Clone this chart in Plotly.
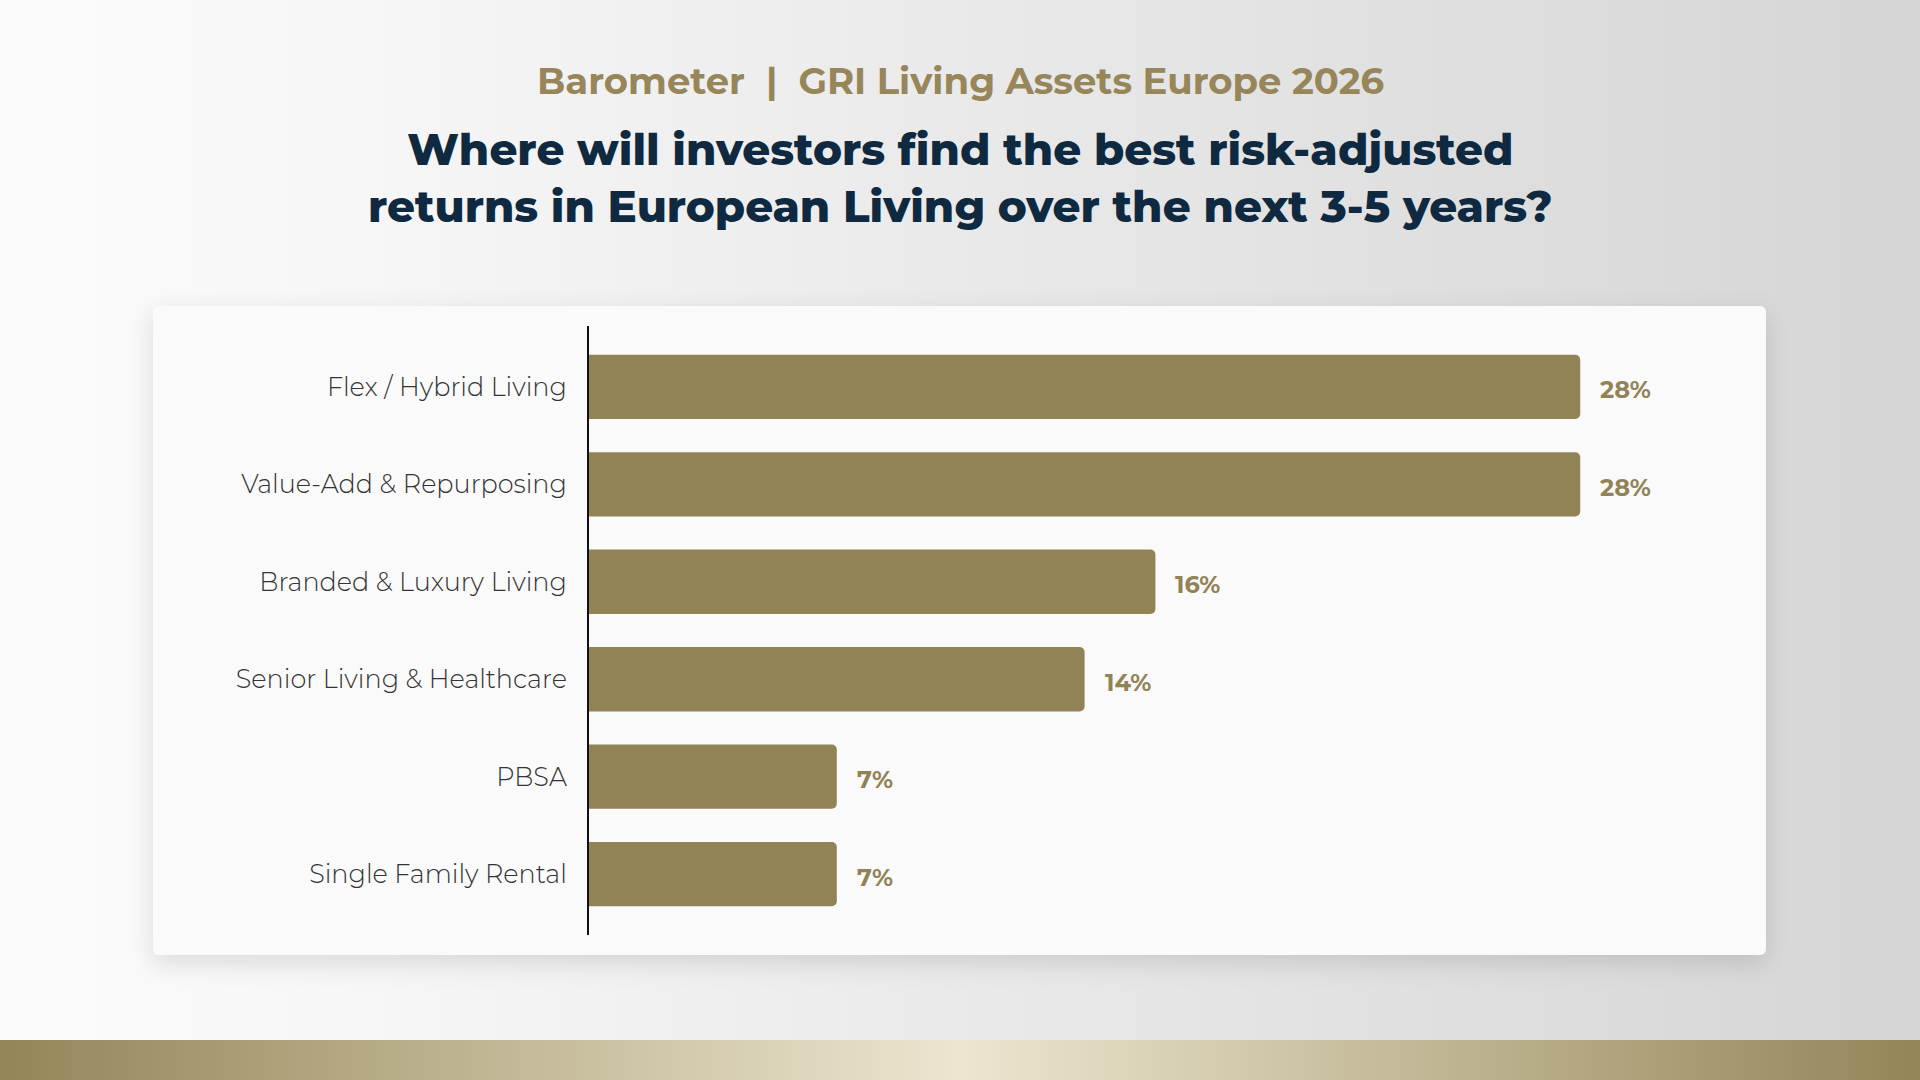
import base64
import plotly.graph_objects as go

categories = ["Flex / Hybrid Living", "Value-Add & Repurposing", "Branded & Luxury Living",
              "Senior Living & Healthcare", "PBSA", "Single Family Rental"]
shares = [28, 28, 16, 14, 7, 7]

GOLD = "#928357"
NAVY = "#0f2a40"

# slide background: grey gradient, white card with shadow, gold band at the bottom
bg_svg = """<svg xmlns="http://www.w3.org/2000/svg" width="1920" height="1080" viewBox="0 0 1920 1080">
<defs>
<linearGradient id="bg" x1="0" y1="0" x2="1" y2="0">
<stop offset="0" stop-color="#fbfbfb"/><stop offset="0.2" stop-color="#f6f6f6"/><stop offset="1" stop-color="#d5d5d5"/>
</linearGradient>
<linearGradient id="band" x1="0" y1="0" x2="1" y2="0">
<stop offset="0" stop-color="#948558"/><stop offset="0.5" stop-color="#ece6cf"/><stop offset="1" stop-color="#948558"/>
</linearGradient>
<filter id="sh" x="-10%" y="-10%" width="120%" height="130%">
<feDropShadow dx="0" dy="8" stdDeviation="12" flood-color="#000" flood-opacity="0.12"/>
</filter>
</defs>
<rect width="1920" height="1080" fill="url(#bg)"/>
<rect x="153" y="306" width="1613" height="649" rx="6" fill="#fafafa" filter="url(#sh)"/>
<rect x="0" y="1040" width="1920" height="40" fill="url(#band)"/>
</svg>"""
bg_uri = "data:image/svg+xml;base64," + base64.b64encode(bg_svg.encode()).decode()

fig = go.Figure(go.Bar(
    x=shares, y=categories, orientation="h",
    marker=dict(color=GOLD, line=dict(width=0)),
    width=0.66, hoverinfo="skip",
))

for c, v in zip(categories, shares):
    fig.add_annotation(x=v, y=c, xref="x", yref="y", text=f"{v}%", showarrow=False,
                       xanchor="left", yanchor="middle", xshift=18, yshift=-3,
                       font=dict(family="Montserrat, Lato, sans-serif", size=24, color=GOLD, weight=700))

fig.add_annotation(x=0.5, y=1 - 81 / 1080, xref="paper", yref="paper", showarrow=False,
                   xanchor="center", yanchor="middle",
                   text="Barometer  |  GRI Living Assets Europe 2026",
                   font=dict(family="Montserrat, Lato, sans-serif", size=37, color="#968659", weight=700))
fig.add_annotation(x=0.5, y=1 - 178 / 1080, xref="paper", yref="paper", showarrow=False,
                   xanchor="center", yanchor="middle",
                   text="Where will investors find the best risk-adjusted<br>returns in European Living over the next 3-5 years?",
                   font=dict(family="Montserrat, Lato, sans-serif", size=43.6, color=NAVY, weight=800))

fig.update_layout(
    width=1920, height=1080,
    margin=dict(l=0, r=0, t=0, b=0),
    paper_bgcolor="#f4f4f4", plot_bgcolor="rgba(0,0,0,0)",
    showlegend=False, barcornerradius=5,
    images=[dict(source=bg_uri, xref="paper", yref="paper", x=0, y=1, sizex=1, sizey=1,
                 xanchor="left", yanchor="top", sizing="stretch", layer="below")],
    xaxis=dict(domain=[589 / 1920, 1759 / 1920], range=[0, 33.05], visible=False),
    yaxis=dict(domain=[1 - 935 / 1080, 1 - 326 / 1080], range=[5.625, -0.625],
               showline=True, linecolor="#111111", linewidth=2, ticks="", showgrid=False,
               ticklabelstandoff=15,
               tickfont=dict(family="Montserrat, Open Sans, sans-serif", size=25.5, color="#333333", weight=300)),
)

fig.write_html("out.html", config={"displayModeBar": False},
               post_script="document.body.style.margin='0';document.body.style.overflow='hidden';")
